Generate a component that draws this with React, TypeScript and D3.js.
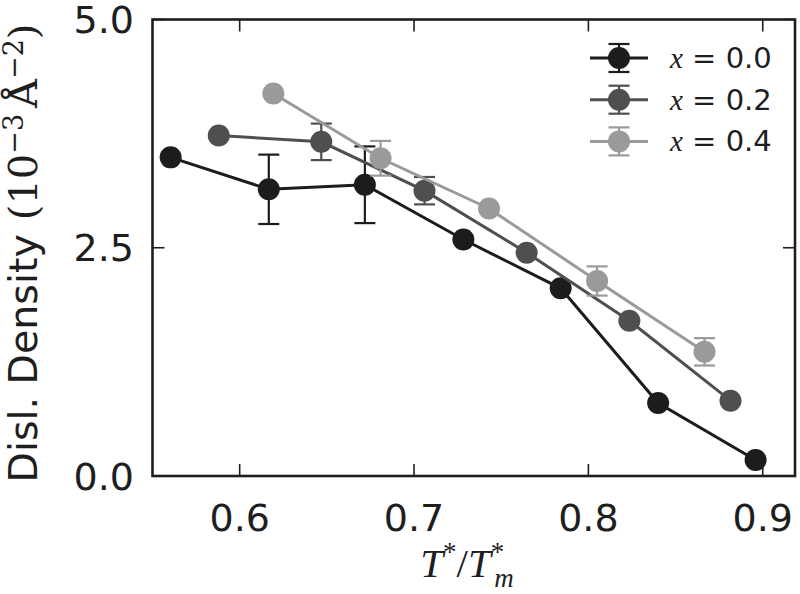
import React from "react";
import * as d3 from "d3";

const labels = ["0.0", "0.2", "0.4"];
const colors = ["#1c1c1c", "#4f4f4f", "#9a9a9a"];

const x00 = [0.5604, 0.6167, 0.6718, 0.7283, 0.7841, 0.840, 0.8959];
const y00 = [3.49, 3.14, 3.19, 2.59, 2.056, 0.80, 0.175];
const e00 = [0, 0.38, 0.42, 0, 0, 0, 0];

const x02 = [0.588, 0.6468, 0.706, 0.7646, 0.8235, 0.8815];
const y02 = [3.73, 3.66, 3.125, 2.446, 1.70, 0.825];
const e02 = [0, 0.2, 0.15, 0, 0, 0];

const x04 = [0.6193, 0.6808, 0.743, 0.805, 0.8666];
const y04 = [4.19, 3.48, 2.93, 2.136, 1.36];
const e04 = [0, 0.19, 0, 0.16, 0.15];

const xTicks = [0.6, 0.7, 0.8, 0.9];
const yTicks = [0, 2.5, 5.0];

const series = [
  { label: labels[0], color: colors[0], xs: x00, ys: y00, es: e00 },
  { label: labels[1], color: colors[1], xs: x02, ys: y02, es: e02 },
  { label: labels[2], color: colors[2], xs: x04, ys: y04, es: e04 },
];

export default function App() {
  const W = 800, H = 594;
  const L = 152.5, R = 795, T = 19.5, B = 476;
  const x = d3.scaleLinear().domain([0.55, 0.9185]).range([L, R]);
  const y = d3.scaleLinear().domain([0, 5]).range([B, T]);
  const line = d3.line<[number, number]>().x(d => x(d[0])).y(d => y(d[1]));
  const r = 11, cap = 10.5, tick = 12;
  const sans = "'DejaVu Sans', sans-serif";
  const serif = "'DejaVu Serif', serif";
  const mathIt = "'Liberation Serif', serif";
  const ink = "#1e1e1e";
  return (
    <svg width={W} height={H} style={{ position: "absolute", left: 0, top: 0, background: "#fff" }}>
      <rect x={0} y={0} width={W} height={H} fill="#fff" />
      {series.map((s, si) => {
        const pts = s.xs.map((v, i) => [v, s.ys[i]] as [number, number]);
        return (
          <g key={si}>
            <path d={line(pts) || ""} fill="none" stroke={s.color} strokeWidth={3} />
            {pts.map((p, i) => s.es[i] > 0 ? (
              <g key={"e" + i} stroke={s.color} strokeWidth={2.2}>
                <line x1={x(p[0])} x2={x(p[0])} y1={y(p[1] - s.es[i])} y2={y(p[1] + s.es[i])} />
                <line x1={x(p[0]) - cap} x2={x(p[0]) + cap} y1={y(p[1] - s.es[i])} y2={y(p[1] - s.es[i])} />
                <line x1={x(p[0]) - cap} x2={x(p[0]) + cap} y1={y(p[1] + s.es[i])} y2={y(p[1] + s.es[i])} />
              </g>
            ) : null)}
            {pts.map((p, i) => (
              <circle key={"c" + i} cx={x(p[0])} cy={y(p[1])} r={r} fill={s.color} />
            ))}
          </g>
        );
      })}
      {/* frame */}
      <rect x={L} y={T} width={R - L} height={B - T} fill="none" stroke={ink} strokeWidth={2.6} />
      {xTicks.map(t => (
        <g key={"xt" + t} stroke={ink} strokeWidth={1.6}>
          <line x1={x(t)} x2={x(t)} y1={B} y2={B - tick} />
          <line x1={x(t)} x2={x(t)} y1={T} y2={T + tick} />
        </g>
      ))}
      {yTicks.map(t => (
        <g key={"yt" + t} stroke={ink} strokeWidth={1.6}>
          <line x1={L} x2={L + tick} y1={y(t)} y2={y(t)} />
          <line x1={R} x2={R - tick} y1={y(t)} y2={y(t)} />
        </g>
      ))}
      {xTicks.map(t => (
        <text key={"xl" + t} x={x(t)} y={531} textAnchor="middle" fontFamily={sans} fontSize={38} fill={ink}>
          {d3.format(".1f")(t)}
        </text>
      ))}
      {yTicks.map(t => (
        <text key={"yl" + t} x={134} y={y(t)} dy="0.36em" textAnchor="end" fontFamily={sans} fontSize={38} fill={ink}>
          {d3.format(".1f")(t)}
        </text>
      ))}
      {/* x label */}
      <text x={467} y={577} textAnchor="middle" fontFamily={mathIt} fontStyle="italic" fontSize={41} fill={ink}>
        T<tspan dy={-16} fontSize={27} fontStyle="normal">*</tspan>
        <tspan dy={16} fontStyle="normal">/</tspan>T
        <tspan dy={-16} fontSize={27} fontStyle="normal">*</tspan>
        <tspan dx={-10} dy={26} fontSize={27}>m</tspan>
      </text>
      {/* y label */}
      <text transform="translate(37,253) rotate(-90)" textAnchor="middle" fontFamily={sans} fontSize={39.5} fill={ink}>
        Disl. Density
        <tspan fontFamily={serif} fontSize={40} dx={14}>(10</tspan>
        <tspan fontFamily={serif} fontSize={27} dy={-14}>−3</tspan>
        <tspan fontFamily={serif} fontSize={40} dy={14} dx={6}>Å</tspan>
        <tspan fontFamily={serif} fontSize={27} dy={-14}>−2</tspan>
        <tspan fontFamily={serif} fontSize={40} dy={14}>)</tspan>
      </text>
      {/* legend */}
      {series.map((s, i) => {
        const cy = 58 + i * 41.7;
        return (
          <g key={"lg" + i}>
            <line x1={590} x2={648} y1={cy} y2={cy} stroke={s.color} strokeWidth={3} />
            <g stroke={s.color} strokeWidth={2.2}>
              <line x1={619} x2={619} y1={cy - 14} y2={cy + 14} />
              <line x1={619 - cap} x2={619 + cap} y1={cy - 14} y2={cy - 14} />
              <line x1={619 - cap} x2={619 + cap} y1={cy + 14} y2={cy + 14} />
            </g>
            <circle cx={619} cy={cy} r={r} fill={s.color} />
            <text x={670} y={cy + 10} fontSize={29} fill={ink}>
              <tspan fontFamily={mathIt} fontStyle="italic">x</tspan>
              <tspan fontFamily={sans}> = {s.label}</tspan>
            </text>
          </g>
        );
      })}
    </svg>
  );
}
